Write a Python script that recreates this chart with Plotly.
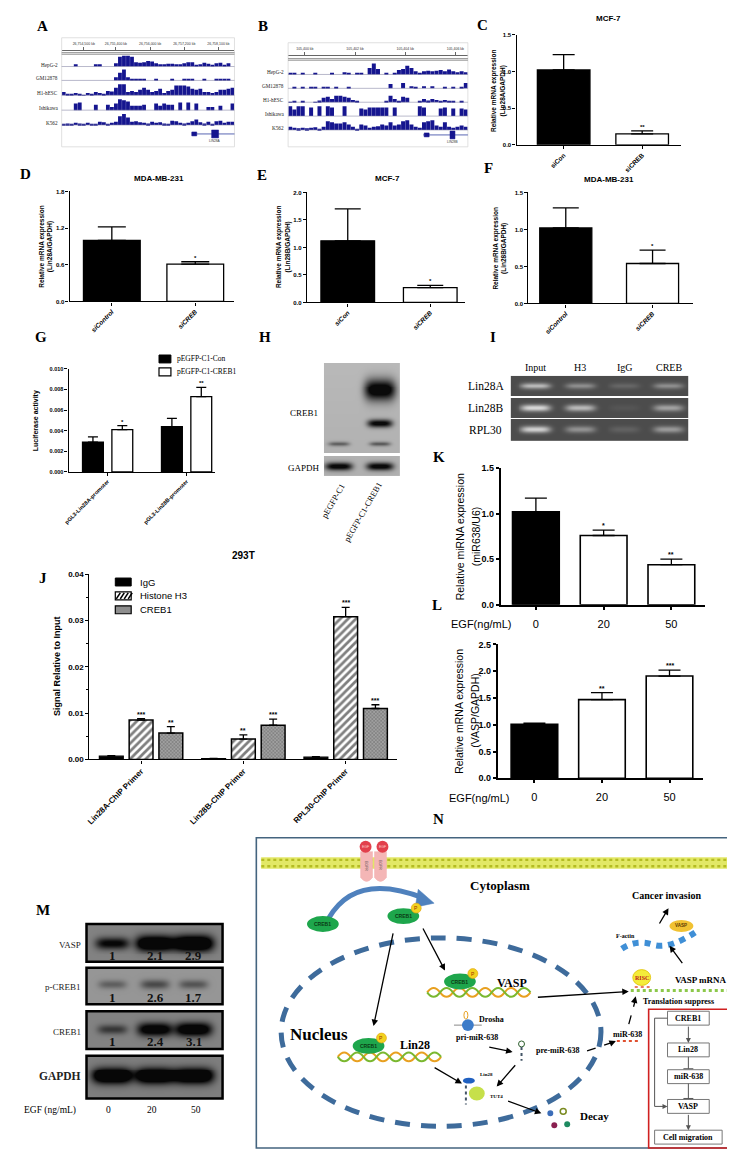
import numpy as np
import plotly.graph_objects as go

W, H = 735, 1150
SANS = "Liberation Sans"
SERIF = "Liberation Serif"
NAVY = "#15158f"

# ---------------- data ----------------
# A / B : ChIP-seq signal tracks (relative height per bin)
cell_lines = ["HepG-2", "GM12878", "H1-hESC", "Ishikawa", "K562"]
A_ruler = ["26,754,500 kb", "26,755,400 kb", "26,756,000 kb", "26,757,200 kb", "26,758,100 kb"]
A_hepg2 = [0, 0, 0, .2, 0, 0, 0, 0, .2, .2, 0, 0, 0, .3, .9, 1, 1, .9, .4, .35, .4, .5, .45, .3, .2, .2, .25,
           .25, .2, .2, .3, .4, .4, .1, .2, .35, .25, .1, .3, .35, .1, .3, 0]
A_gm12878 = [0, 0, 0, 0, 0, 0, 0, 0, 0, 0, 0, 0, 0, .3, .7, 1, .3, .15, .1, .15, .1, 0, 0, .1, 0, 0, 0, .1, 0,
             0, .1, .1, .1, 0, 0, .1, 0, 0, .1, .1, .1, .1, 0]
A_h1 = [.3, .1, .15, .2, .15, .05, .2, .1, .3, .2, .15, .4, .35, .7, 1, 1, .3, .4, .3, .5, .7, .5, .3, .4, .6, .2,
        .4, .5, .9, .9, .9, .8, .6, .5, .6, .3, .3, .2, .3, .5, .5, .6, .7]
A_ishikawa = [0, 0, 0, .6, .7, 0, 0, 0, .5, 0, 0, .5, .3, .6, 1, .9, .8, .4, .4, .4, .5, 0, 0, .6, .4, .6, .5, .5,
              0, .7, 0, .7, 0, .6, 0, 0, .3, .3, 0, .4, 0, 0, .6]
A_k562 = [.1, .15, .1, .2, .15, .1, .2, .05, .1, .3, .25, .1, .2, .3, .8, 1, .7, .3, .35, .25, .2, .15, .3, .2,
          .25, .15, .1, .4, .35, .2, .15, .2, .35, .5, .25, .15, .3, .1, .35, .4, .2, .3, .3]
B_ruler = ["105,400 kb", "105,402 kb", "105,404 kb", "105,406 kb"]
B_hepg2 = [.1, .15, 0, .1, 0, 0, .1, 0, 0, 0, .1, 0, 0, .2, .1, 0, .1, .1, 0, .6, 1, .5, 0, .15, 0, .1, .4, .5, .8,
           .6, .3, .1, .3, .35, .3, .35, .4, .3, .45, .3, .2, .3, .2]
B_gm12878 = [0, .1, 0, .1, 0, .1, .1, 0, .15, .1, 0, .1, 0, 0, .1, 0, 0, 0, 0, 0, 0, 0, 0, 0, .4, 0, 0, .5, 0, .2,
             .1, 0, .2, 0, .2, 0, 0, .1, 0, .1, 0, .1, .5]
B_h1 = [.05, .1, 0, .1, 0, 0, .05, .15, .4, .5, .3, .6, .6, .5, .4, .2, .1, 0, 0, 0, 0, 0, 0, .1, .6, .3, .1, .5,
        .4, 0, 0, .1, .3, .15, .3, .2, .1, .2, .1, .1, 0, .1, 0]
B_ishikawa = [.9, .6, .9, .9, 0, .8, 0, .9, 0, .9, .8, 0, 0, .9, 0, 0, 0, .7, .6, .8, .8, .8, .8, .8, 0, .8, 0, 0,
              0, 0, 0, .9, .8, 0, 0, 0, .7, .8, 0, .7, 0, .7, .6]
B_k562 = [.3, .2, .15, .2, .15, .2, .25, .1, .3, .8, .7, .6, .6, .7, .5, .3, .1, .5, .4, .2, .3, .35, .5, .4, .7,
          .4, .5, .8, .9, .5, .3, .2, .7, .8, .9, .4, .3, .7, .3, .2, .3, .4, .3]

# C-F : relative mRNA expression (mean, SEM)
C_cats = ["siCon", "siCREB"]
C_vals = [1.02, 0.15]
C_sem = [0.21, 0.04]
C_stars = ["", "**"]
D_cats = ["siControl", "siCREB"]
D_vals = [1.0, 0.61]
D_sem = [0.22, 0.04]
D_stars = ["", "*"]
E_cats = ["siCon", "siCREB"]
E_vals = [1.12, 0.27]
E_sem = [0.58, 0.04]
E_stars = ["", "*"]
F_cats = ["siControl", "siCREB"]
F_vals = [1.02, 0.54]
F_sem = [0.27, 0.18]
F_stars = ["", "*"]

# G : luciferase activity
G_cats = ["pGL3-Lin28A-promoter", "pGL3-Lin28B-promoter"]
G_con = [0.0029, 0.0044]
G_con_sem = [0.0005, 0.0008]
G_creb = [0.0041, 0.0073]
G_creb_sem = [0.0004, 0.0009]
G_stars = ["*", "**"]

# H : western blot band intensity (rows: GFP-CREB1, truncated, endogenous)
H_lanes = ["pEGFP-C1", "pEGFP-C1-CREB1"]
H_c1 = [0.0, 0.0, 0.42]
H_creb1 = [1.0, 0.85, 0.45]
H_gapdh = [0.85, 0.85]

# I : ChIP PCR gel band intensity
I_cols = ["Input", "H3", "IgG", "CREB"]
I_rows = ["Lin28A", "Lin28B", "RPL30"]
I_lin28a = [0.75, 0.45, 0.18, 0.45]
I_lin28b = [0.9, 0.7, 0.06, 0.55]
I_rpl30 = [0.85, 0.45, 0.14, 0.5]

# J : ChIP-qPCR, 293T
J_cats = ["Lin28A-ChIP Primer", "Lin28B-ChIP Primer", "RPL30-ChIP Primer"]
J_igg = [0.0007, 0.0002, 0.0005]
J_igg_sem = [0.0001, 0.00005, 0.0001]
J_h3 = [0.0085, 0.0044, 0.0308]
J_h3_sem = [0.0003, 0.0009, 0.0020]
J_creb = [0.0057, 0.0074, 0.0110]
J_creb_sem = [0.0014, 0.0013, 0.0008]
J_h3_stars = ["***", "**", "***"]
J_creb_stars = ["**", "***", "***"]

# K / L : EGF dose
EGF = ["0", "20", "50"]
K_vals = [1.02, 0.76, 0.44]
K_sem = [0.15, 0.06, 0.06]
K_stars = ["", "*", "**"]
L_vals = [1.01, 1.47, 1.91]
L_sem = [0.02, 0.13, 0.11]
L_stars = ["", "**", "***"]

# M : western blot band intensity and quantification
M_rows = ["VASP", "p-CREB1", "CREB1", "GAPDH"]
M_vasp = [0.6, 0.95, 1.0]
M_pcreb = [0.25, 0.35, 0.3]
M_creb = [0.35, 0.75, 0.8]
M_gapdh = [1.0, 1.0, 1.0]
M_vasp_q = [1, 2.1, 2.9]
M_pcreb_q = [1, 2.6, 1.7]
M_creb_q = [1, 2.4, 3.1]


# ---------------- helpers ----------------
def xdom(a, b):
    return [a / W, b / W]


def ydom(top, bot):
    return [1 - bot / H, 1 - top / H]


def sfx(n):
    return "" if n == 1 else str(n)


fig = go.Figure()
layout = dict(width=W, height=H, margin=dict(l=0, r=0, t=0, b=0), paper_bgcolor="white",
              plot_bgcolor="rgba(0,0,0,0)", showlegend=False, barmode="overlay")
ann = []
shp = []


def set_axes(n, xkw, ykw):
    layout["xaxis" + sfx(n)] = dict(anchor="y" + sfx(n), fixedrange=True, showgrid=False, zeroline=False, **xkw)
    layout["yaxis" + sfx(n)] = dict(anchor="x" + sfx(n), fixedrange=True, showgrid=False, zeroline=False, **ykw)


def prism(**kw):
    d = dict(showline=True, linecolor="black", linewidth=1.3, ticks="outside", tickcolor="black",
             tickwidth=1.3, ticklen=3)
    d.update(kw)
    return d


def bfont(size, **kw):
    return dict(family=SANS, size=size, color="black", weight="bold", **kw)


def txt(x, y, s, size, family=SERIF, bold=False, angle=0, xanchor="center", color="black", **kw):
    ann.append(dict(x=x, y=y, xref="x20", yref="y20", text=s, showarrow=False, textangle=angle,
                    xanchor=xanchor, yanchor="middle",
                    font=dict(family=family, size=size, color=color, weight="bold" if bold else "normal"), **kw))


def arrow(x0, y0, x1, y1, w=1.3, color="black", head=2):
    ann.append(dict(x=x1, y=y1, ax=x0, ay=y0, xref="x20", yref="y20", axref="x20", ayref="y20", text="",
                    showarrow=True, arrowhead=head, arrowsize=1, arrowwidth=w, arrowcolor=color))


def rect(x0, y0, x1, y1, fill=None, line="black", lw=1, **kw):
    shp.append(dict(type="rect", x0=x0, y0=y0, x1=x1, y1=y1, xref="x20", yref="y20",
                    fillcolor=fill or "rgba(0,0,0,0)", line=dict(color=line, width=lw), **kw))


def seg(x0, y0, x1, y1, color="black", lw=1, dash="solid"):
    shp.append(dict(type="line", x0=x0, y0=y0, x1=x1, y1=y1, xref="x20", yref="y20",
                    line=dict(color=color, width=lw, dash=dash)))


def oval(cx, cy, rx, ry, fill, line="rgba(0,0,0,0)", lw=1, dash="solid"):
    shp.append(dict(type="circle", x0=cx - rx, x1=cx + rx, y0=cy - ry, y1=cy + ry, xref="x20", yref="y20",
                    fillcolor=fill, line=dict(color=line, width=lw, dash=dash)))


def path(p, color="black", lw=1, fill=None, dash="solid"):
    shp.append(dict(type="path", path=p, xref="x20", yref="y20", fillcolor=fill or "rgba(0,0,0,0)",
                    line=dict(color=color, width=lw, dash=dash)))


def bars(n, cats, vals, sem, colors, width, cap, offset=None, pattern=None, lw=1.3):
    fig.add_trace(go.Bar(x=cats, y=vals, width=width, offset=offset, xaxis="x" + sfx(n), yaxis="y" + sfx(n),
                         marker=dict(color=colors, line=dict(color="black", width=lw), pattern=pattern),
                         error_y=dict(type="data", symmetric=False, array=sem, arrayminus=[0] * len(sem),
                                      color="black", thickness=1.3, width=cap),
                         showlegend=False, hoverinfo="skip"))


def stars(n, pos, vals, sem, marks, size=6):
    # pos: category index (fractional allowed) on a category axis
    for p, v, e, m in zip(pos, vals, sem, marks):
        if m:
            ann.append(dict(x=p, y=v + e, xref="x" + sfx(n), yref="y" + sfx(n), text=m, showarrow=False,
                            yanchor="bottom", yshift=-1, font=bfont(size)))


def band(X, Y, xc, yc, sx, sy):
    return np.exp(-((X - xc) / sx) ** 4 - ((Y - yc) / sy) ** 2)


# ---------------- A / B genome tracks ----------------
def tracks(n, data, baselines, scale):
    for vals, b in zip(data, baselines):
        fig.add_trace(go.Bar(x=list(range(len(vals))), y=[v * scale for v in vals], base=b, width=0.95,
                             marker=dict(color=NAVY, line=dict(width=0)), xaxis="x" + sfx(n),
                             yaxis="y" + sfx(n), showlegend=False, hoverinfo="skip"))


ruler_kw = dict(side="top", showline=True, linecolor="#666", linewidth=0.8, ticks="outside", ticklen=3,
                tickcolor="#666", tickwidth=0.7, tickfont=dict(family=SANS, size=3.5, color="#333"),
                tickmode="array")
tracks(1, [A_hepg2, A_gm12878, A_h1, A_ishikawa, A_k562], [81, 67, 52, 37, 22], 11)
set_axes(1, dict(domain=xdom(49, 223), range=[-0.5, 42.5], tickvals=[5, 13, 21.5, 30, 38.5], ticktext=A_ruler,
                 **ruler_kw),
         dict(domain=ydom(38, 135), range=[0, 97], visible=False))
tracks(2, [B_hepg2, B_gm12878, B_h1, B_ishikawa, B_k562], [73, 59, 45, 31, 17], 11)
set_axes(2, dict(domain=xdom(277, 458), range=[-0.5, 42.5], tickvals=[3.5, 15.5, 27.5, 39.5], ticktext=B_ruler,
                 **ruler_kw),
         dict(domain=ydom(43, 135), range=[0, 92], visible=False))

for x0, x1, top, dbl, base_px, lab_x in [(49, 223, 25, 40, [54, 68, 83, 98, 113], 47),
                                         (277, 458, 30, 46, [62, 76, 90, 104, 118], 275)]:
    rect(x0, top, x1, 135, line="#d8d8d8", lw=0.8)
    seg(x0, dbl, x1, dbl, "#777", 0.8)
    seg(x0, dbl + 1.6, x1, dbl + 1.6, "#777", 0.8)
    for name, bp in zip(cell_lines, base_px):
        seg(x0, bp, x1, bp, "#8a8aa8", 0.6)
        txt(lab_x, bp - 2, name, 5.2, xanchor="right", color="#222")
# gene models
seg(180, 122, 223, 122, "#3040a0", 0.8)
rect(180, 120, 185, 124, fill=NAVY, line=NAVY, lw=0.5)
rect(200, 118, 207, 126, fill=NAVY, line=NAVY, lw=0.5)
txt(203, 129, "LIN28A", 3.2, family=SANS, color="#333")
seg(413, 123, 458, 123, "#3040a0", 0.8)
rect(414, 121, 419, 125, fill=NAVY, line=NAVY, lw=0.5)
rect(440, 119, 445, 127, fill=NAVY, line=NAVY, lw=0.5)
txt(443, 130, "LIN28B", 3.2, family=SANS, color="#333")

# ---------------- C-F bar charts ----------------
simple = [
    (3, C_cats, C_vals, C_sem, C_stars, (507, 673), [-0.60, 1.50], (22, 133), 1.5, 0.5, 0.67, 11, {}),
    (4, D_cats, D_vals, D_sem, D_stars, (57, 223), [-0.506, 1.47], (180, 291), 1.8, 0.6, 0.68, 14,
     dict(style="italic")),
    (5, E_cats, E_vals, E_sem, E_stars, (296, 455), [-0.494, 1.42], (181, 292), 2.0, 0.5, 0.65, 13,
     dict(style="italic")),
    (6, F_cats, F_vals, F_sem, F_stars, (519, 685), [-0.43, 1.47], (181, 293), 1.5, 0.5, 0.6, 13,
     dict(style="italic")),
]
for n, cats, vals, sem, st, xpx, xr, ypx, ytop, dt, bw, cap, fstyle in simple:
    bars(n, cats, vals, sem, ["black", "white"], bw, cap)
    stars(n, list(range(len(cats))), vals, sem, st)
    set_axes(n, prism(domain=xdom(*xpx), range=xr, type="category", tickangle=-45, tickfont=bfont(6.5, **fstyle)),
             prism(domain=ydom(*ypx), range=[0, ytop], dtick=dt, tickformat=".1f", tickfont=bfont(6)))

txt(600, 6, "MCF-7", 8, family=SANS, bold=True)
txt(147, 167, "MDA-MB-231", 8, family=SANS, bold=True)
txt(377, 167, "MCF-7", 8, family=SANS, bold=True)
txt(600, 168, "MDA-MB-231", 8, family=SANS, bold=True)
for x, y, g in [(489, 78, "Lin28A/GAPDH"), (33, 235, "Lin28A/GAPDH"), (272, 236, "Lin28B/GAPDH"),
                (490, 237, "Lin28B/GAPDH")]:
    txt(x, y, "Relative mRNA expression<br>(" + g + ")", 6.5, family=SANS, bold=True, angle=-90)

# ---------------- G luciferase ----------------
bars(7, G_cats, G_con, G_con_sem, "black", 0.264, 5, offset=-0.318)
bars(7, G_cats, G_creb, G_creb_sem, "white", 0.264, 5, offset=0.054)
stars(7, [0.186, 1.186], G_creb, G_creb_sem, G_stars)
set_axes(7, prism(domain=xdom(56, 203), range=[-0.494, 1.355], type="category", tickangle=-45,
                  tickfont=bfont(5.5)),
         prism(domain=ydom(359, 463), range=[0, 0.010], dtick=0.002, tickformat=".3f", tickfont=bfont(5.5)))
txt(24, 411, "Luciferase activity", 7, family=SANS, bold=True, angle=-90)
rect(147, 345, 159, 353, fill="black", lw=1)
rect(147, 358, 159, 366, fill="white", lw=1.2)
txt(163, 349, "pEGFP-C1-Con", 7.5, xanchor="left")
txt(163, 362, "pEGFP-C1-CREB1", 7.5, xanchor="left")

# ---------------- H western blot ----------------
hx = np.arange(313, 391)
hy = np.arange(353, 468)
HX, HY = np.meshgrid(hx, hy)
hz = 0.80 - 0.04 * (HY - 353) / 115
for li, lane in enumerate([H_c1, H_creb1]):
    xc = [328, 370][li]
    for ri, a in enumerate(lane):
        hz = hz - a * band(HX, HY, xc, [380, 414, 435][ri], [16, 13, 11][ri], [11, 4, 2.6][ri])
for li, a in enumerate(H_gapdh):
    hz = hz - a * band(HX, HY, [328, 370][li], 458, 14, 4)
hz = np.clip(hz, 0, 1)
hz[(HY > 444) & (HY < 448)] = np.nan
fig.add_trace(go.Heatmap(z=hz, x=hx, y=hy, zmin=0, zmax=1, colorscale=[[0, "#0a0a0a"], [1, "#e4e4e4"]],
                         showscale=False, xaxis="x8", yaxis="y8", hoverinfo="skip"))
set_axes(8, dict(domain=xdom(313, 390), range=[312.5, 390.5], visible=False),
         dict(domain=ydom(353, 467), range=[467.5, 352.5], visible=False))
txt(293, 403, "CREB1", 9)
txt(293, 459, "GAPDH", 9)
txt(322, 492, H_lanes[0], 8.5, angle=-60)
txt(352, 503, H_lanes[1], 8.5, angle=-60)

# ---------------- I gel ----------------
gx = np.arange(501, 681)
gy = np.arange(366, 433)
GX, GY = np.meshgrid(gx, gy)
gz = np.full(GX.shape, 0.22)
for ri, row in enumerate([I_lin28a, I_lin28b, I_rpl30]):
    for li, a in enumerate(row):
        gz = gz + 0.72 * a * band(GX, GY, [526, 571, 616, 660][li], [376, 398.5, 421][ri], 15, 3.4)
gz = np.clip(gz, 0, 1)
gz[((GY >= 387) & (GY <= 388)) | ((GY >= 409) & (GY <= 410))] = np.nan
fig.add_trace(go.Heatmap(z=gz, x=gx, y=gy, zmin=0, zmax=1, colorscale=[[0, "#1c1c1c"], [1, "#f4f4f4"]],
                         showscale=False, xaxis="x9", yaxis="y9", hoverinfo="skip"))
set_axes(9, dict(domain=xdom(501, 680), range=[500.5, 680.5], visible=False),
         dict(domain=ydom(366, 432), range=[432.5, 365.5], visible=False))
for name, x in zip(I_cols, [526, 571, 616, 660]):
    txt(x, 358, name, 10)
for name, y in zip(I_rows, [376, 398, 421]):
    txt(476, y, name, 11.5)

# ---------------- J ChIP-qPCR ----------------
hatch = dict(shape="/", fgcolor="black", bgcolor="white", size=5.5, solidity=0.5)
cross = dict(shape="x", fgcolor="#3a3a3a", bgcolor="#a0a0a0", size=2.5, solidity=0.35)
bars(10, J_cats, J_igg, J_igg_sem, "black", 0.233, 4, offset=-0.408)
bars(10, J_cats, J_h3, J_h3_sem, "white", 0.233, 4, offset=-0.117, pattern=hatch, lw=1.5)
bars(10, J_cats, J_creb, J_creb_sem, "#a0a0a0", 0.233, 4, offset=0.174, pattern=cross, lw=1.5)
stars(10, [0, 1, 2], J_h3, J_h3_sem, J_h3_stars, 7)
stars(10, [0.291, 1.291, 2.291], J_creb, J_creb_sem, J_creb_stars, 7)
set_axes(10, prism(domain=xdom(77, 387), range=[-0.505, 2.505], type="category", tickangle=-45,
                   tickfont=bfont(8)),
         prism(domain=ydom(566, 753), range=[0, 0.04], dtick=0.01, tickformat=".2f", tickfont=bfont(8),
               minor=dict(ticks="outside", dtick=0.005, ticklen=2, tickcolor="black", tickwidth=1.3)))
txt(232, 547, "293T", 10, family=SANS, bold=True)
txt(45, 659, "Signal Relative to Input", 9, family=SANS, bold=True, angle=-90)
rect(103, 570, 119, 578, fill="black", lw=1)
rect(103, 584, 119, 592, fill="white", lw=1.2)
for k in range(4):
    seg(104 + 4 * k, 591, 108 + 4 * k, 585, "black", 1.6)
rect(103, 598, 119, 606, fill="#8e8e8e", lw=1.2)
for name, y in zip(["IgG", "Histone H3", "CREB1"], [574, 588, 602]):
    txt(126, y, name, 9.5, family=SANS, xanchor="left")

# ---------------- K / L EGF dose ----------------
for n, vals, sem, st, xpx, xr, ypx, ytop in [
        (11, K_vals, K_sem, K_stars, (491, 697), [-0.52, 2.5], (459, 597), 1.5),
        (12, L_vals, L_sem, L_stars, (488, 695), [-0.544, 2.5], (637, 772), 2.5)]:
    bars(n, EGF, vals, sem, ["black", "white", "white"], 0.69, 11, lw=1.6)
    stars(n, list(range(len(EGF))), vals, sem, st, 7)
    set_axes(n, prism(domain=xdom(*xpx), range=xr, type="category", tickfont=dict(family=SANS, size=11,
                                                                                color="black"),
                      ticklabelstandoff=5, linewidth=1.6, tickwidth=1.6),
             prism(domain=ydom(*ypx), range=[0, ytop], dtick=0.5, tickformat=".1f", tickfont=bfont(9),
                   linewidth=1.6, tickwidth=1.6))
txt(472, 616, "EGF(ng/mL)", 11, family=SANS)
txt(470, 792, "EGF(ng/mL)", 11, family=SANS)
txt(450, 528, "Relative miRNA expression", 10.5, family=SANS, angle=-90)
txt(467, 528, "(miR638/U6)", 10.5, family=SANS, angle=-90)
txt(449, 704, "Relative mRNA expression", 10.5, family=SANS, angle=-90)
txt(465, 704, "(VASP/GAPDH)", 10.5, family=SANS, angle=-90)

# ---------------- M western blot ----------------
mx = np.arange(74, 212)
my = np.arange(919, 1096)
MX, MY = np.meshgrid(mx, my)
mz = np.full(MX.shape, np.nan)
boxes = [(919, 957), (963, 1000), (1007, 1045), (1052, 1095)]
centers = [938, 980, 1026, 1073]
bgs = [0.62, 0.72, 0.62, 0.6]
for ri, row in enumerate([M_vasp, M_pcreb, M_creb, M_gapdh]):
    top, bot = boxes[ri]
    inside = (MY >= top) & (MY <= bot)
    z = np.full(MX.shape, bgs[ri])
    for li, a in enumerate(row):
        z = z - 1.1 * a * band(MX, MY, [100, 143, 182][li], centers[ri], 12 + 8 * a, 3 + 5 * a)
    mz[inside] = np.clip(z[inside], 0, 1)
fig.add_trace(go.Heatmap(z=mz, x=mx, y=my, zmin=0, zmax=1, colorscale=[[0, "#070707"], [1, "#cdcdcd"]],
                         showscale=False, xaxis="x13", yaxis="y13", hoverinfo="skip"))
set_axes(13, dict(domain=xdom(74, 211), range=[73.5, 211.5], visible=False),
         dict(domain=ydom(919, 1095), range=[1095.5, 918.5], visible=False))
for top, bot in boxes:
    rect(74, top, 211, bot, lw=2.5)
for name, y, sz, bd in zip(M_rows, [940, 983, 1028, 1072], [9, 9, 9, 11.5], [False, False, False, True]):
    txt(70, y, name, sz, bold=bd, xanchor="right", color="#222")
for q, y in zip([M_vasp_q, M_pcreb_q, M_creb_q], [951, 993, 1038]):
    for v, x in zip(q, [100, 143, 182]):
        txt(x, y, "%g" % v, 13, bold=True, color="#111")
txt(37, 1107, "EGF (ng/mL)", 9.5)
for v, x in zip(EGF, [96, 140, 184]):
    txt(x, 1107, v, 9.5)

# ---------------- N schematic ----------------
rect(245, 832, 730, 1145, line="#44647f", lw=1.6)
rect(250, 852, 720, 863, fill="#e2e866", line="#e2e866", lw=0.5)
seg(250, 854.3, 720, 854.3, "#b4bc22", 2.4, "dot")
seg(250, 860.7, 720, 860.7, "#b4bc22", 2.4, "dot")
path("M 350,846 L 362,846 L 362,872 Q 356,880 350,872 Z", "#f2b0b0", 0.5, fill="#f4b6b6")
path("M 364,846 L 376,846 L 376,872 Q 370,880 364,872 Z", "#f2b0b0", 0.5, fill="#f4b6b6")
txt(356, 860, "EGFR", 3.5, family=SANS, angle=90, color="#444")
txt(370, 860, "EGFR", 3.5, family=SANS, angle=90, color="#444")
oval(355, 841, 6, 6, "#e2404c")
oval(372, 841, 6, 6, "#e2404c")
txt(355, 841, "EGF", 3.5, family=SANS, color="#ffd0d0")
txt(372, 841, "EGF", 3.5, family=SANS, color="#ffd0d0")
txt(490, 880, "Cytoplasm", 13, bold=True)
path("M 318,913 Q 345,866 414,893", "#4f81bd", 5)
path("M 408,884 L 424,898 L 405,902 Z", "#4f81bd", 0.5, fill="#4f81bd")
oval(431, 1028, 161, 95, "rgba(0,0,0,0)", line="#3e6b9b", lw=5, dash="15px,11px")


def creb(cx, cy, phospho=True):
    oval(cx, cy, 16, 8, "#1ea64c")
    txt(cx, cy, "CREB1", 5, family=SANS, bold=True, color="#0b3a14")
    if phospho:
        oval(cx + 13, cy - 8, 5, 5, "#f2d21e", line="#e0a010", lw=0.6)
        txt(cx + 13, cy - 8, "P", 5, family=SANS, color="#a03000")


def helix(x0, x1, yc):
    for color, s in [("#e8a020", 1), ("#7ab830", -1)]:
        p = "M %d,%d" % (x0, yc)
        x = x0
        while x < x1:
            p += " Q %.1f,%.1f %.1f,%d" % (x + 6.5, yc - 9 * s, x + 13, yc)
            x += 13
            s = -s
        path(p, color, 2)


creb(312, 919, phospho=False)
creb(393, 911)
arrow(383, 927, 363, 1022)
arrow(412, 922, 435, 966)
helix(327, 431, 1053)
creb(358, 1042)
txt(405, 1041, "Lin28", 12, bold=True)
helix(417, 521, 988)
creb(450, 977)
txt(502, 979, "VASP", 12, bold=True)
txt(308, 1030, "Nucleus", 17, bold=True)
arrow(527, 993, 620, 987)
arrow(423, 1063, 452, 1080)
oval(456, 1011, 2, 4, "rgba(0,0,0,0)", line="#e8a020", lw=1)
seg(444, 1021, 472, 1021, "#888", 1)
oval(458, 1021, 6, 6, "#3d7cc9")
txt(482, 1015, "Drosha", 8, bold=True)
txt(467, 1033, "pri-miR-638", 8, bold=True)
arrow(478, 1043, 503, 1048)
oval(512, 1040, 3, 3, "rgba(0,0,0,0)", line="#2c5e2c", lw=1)
seg(512, 1043, 512, 1057, "#456", 2, "dot")
txt(548, 1047, "pre-miR-638", 8, bold=True)
arrow(507, 1060, 487, 1083)
oval(459, 1077, 6, 3, "#2060c0")
seg(456, 1082, 456, 1101, "#456", 2, "dot")
oval(467, 1090, 8, 7, "#c6e04a")
txt(477, 1071, "Lin28", 5, bold=True)
txt(487, 1093, "TUT4", 5, bold=True)
arrow(497, 1097, 532, 1110)
oval(541, 1110, 3, 3, "#3b6db8")
oval(554, 1108, 3, 3, "rgba(0,0,0,0)", line="#7a8a20", lw=1.5)
oval(545, 1122, 3, 3, "#8a2050")
oval(558, 1121, 3, 3, "#1d8a60")
txt(585, 1113, "Decay", 11, bold=True)
seg(578, 1047, 602, 1039, "black", 1.3, "dash")
arrow(600, 1040, 607, 1037)
txt(619, 1030, "miR-638", 8, bold=True)
seg(608, 1037, 632, 1037, "#e05030", 2, "dot")
seg(620, 1020, 626, 998, "black", 1.3, "dash")
arrow(625, 1000, 627, 992)
oval(633, 973, 9, 8, "#f4ec3a", line="#e0c000", lw=0.8)
txt(633, 973, "RISC", 6, bold=True, color="#c02020")
seg(622, 986, 722, 986, "#8cc84a", 3, "dot")
seg(626, 982.5, 641, 982.5, "#e05030", 1.5, "dot")
txt(693, 975, "VASP mRNA", 9, bold=True)
txt(632, 997, "Translation suppress", 8, bold=True, xanchor="left")
arrow(675, 960, 661, 941)
path("M 613,944 Q 628,934 645,940 Q 662,945 692,924", "#3f8fd6", 6, dash="dot")
txt(617, 931, "F-actin", 6, bold=True)
oval(673, 921, 12, 6, "#f1c232")
txt(673, 921, "VASP", 4.5, family=SANS, bold=True, color="#5a3a00")
arrow(650, 920, 660, 903)
txt(658, 890, "Cancer invasion", 10, bold=True)

rect(640, 1005, 730, 1145, line="#d02020", lw=1.6)
for name, y, w in [("CREB1", 1014, 42), ("Lin28", 1046, 42), ("miR-638", 1073, 42), ("VASP", 1103, 42),
                   ("Cell migration", 1134, 68)]:
    rect(680 - w / 2, y - 7, 680 + w / 2, y + 7, fill="white", line="#777", lw=1)
    txt(680, y, name, 8, bold=True)
arrow(680, 1021, 680, 1039, w=1, color="#555")
seg(680, 1053, 680, 1065, "#555", 1)
seg(675, 1065, 685, 1065, "#555", 1)
seg(680, 1080, 680, 1095, "#555", 1)
seg(675, 1095, 685, 1095, "#555", 1)
arrow(680, 1110, 680, 1127, w=1, color="#555")
path("M 659,1014 L 646,1014 L 646,1103 L 652,1103", "#555", 1)
arrow(650, 1103, 659, 1103, w=1, color="#555")

# ---------------- panel letters ----------------
for letter, x, y in [("A", 30, 13), ("B", 252, 13), ("C", 473, 12), ("D", 13, 162), ("E", 251, 163),
                     ("F", 479, 156), ("G", 28, 327), ("H", 254, 327), ("I", 483, 327), ("J", 30, 570),
                     ("K", 429, 448), ("L", 427, 597), ("M", 30, 905), ("N", 428, 813)]:
    txt(x, y, letter, 15, bold=True)

# overlay pixel axes for text and drawing
fig.add_trace(go.Scatter(x=[0], y=[0], mode="markers", marker=dict(opacity=0), xaxis="x20", yaxis="y20",
                         showlegend=False, hoverinfo="skip"))
layout["xaxis20"] = dict(domain=[0, 1], range=[0, W], visible=False, fixedrange=True, anchor="y20")
layout["yaxis20"] = dict(domain=[0, 1], range=[H, 0], visible=False, fixedrange=True, anchor="x20")
layout["annotations"] = ann
layout["shapes"] = [dict(s, layer="above") for s in shp]

fig.update_layout(**layout)
fig.write_html("out.html")
